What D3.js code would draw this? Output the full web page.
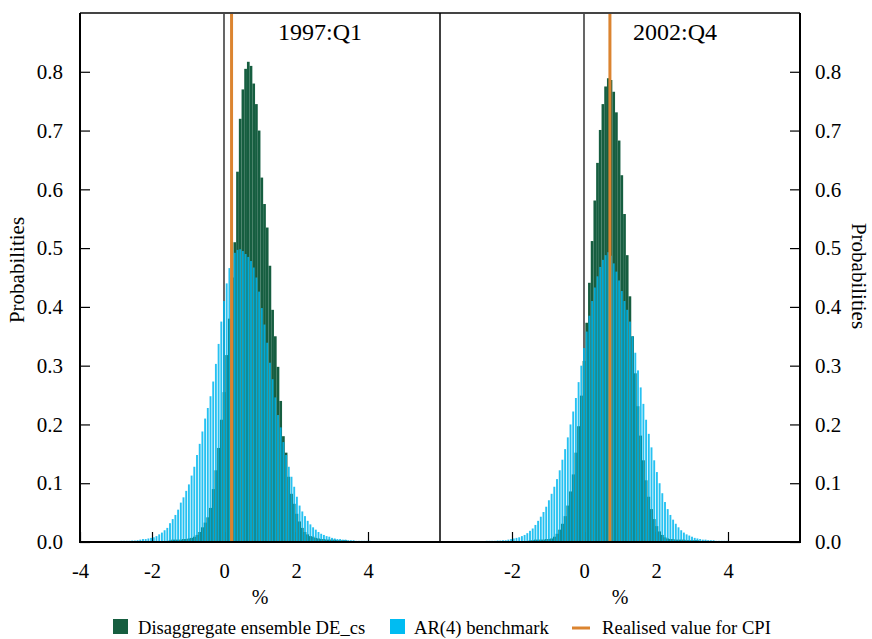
<!DOCTYPE html>
<html>
<head>
<meta charset="utf-8">
<script src="https://cdn.jsdelivr.net/npm/d3@7"></script>
<style>
  body { margin: 0; background: #fff; }
  svg { display: block; }
  svg text { font-family: "Liberation Serif", "Times New Roman", serif; fill: #000; }
</style>
</head>
<body>
<div id="b1"></div>
<script>
// bins: centre of first bin and common width
const binWidth = 0.075;
const arStart = -3.3;   // AR(4) bins start here
const deStart = -1.5;   // DE_cs bins start here

const panelTitles = ["1997:Q1", "2002:Q4"];

// AR(4) benchmark, 1997:Q1
const ar1997 = [
  0.001,0.001,0.001,0.0015,0.0015,0.0015,0.002,0.002,0.002,0.002,
  0.0025,0.0025,0.003,0.004,0.005,0.005,0.006,0.007,0.008,0.010,
  0.013,0.016,0.020,0.024,0.032,0.039,0.046,0.055,0.067,0.076,
  0.087,0.098,0.113,0.128,0.148,0.167,0.188,0.210,0.228,0.248,
  0.273,0.303,0.337,0.375,0.410,0.440,0.466,0.483,0.492,0.497,
  0.498,0.495,0.490,0.485,0.478,0.467,0.450,0.426,0.398,0.370,
  0.339,0.305,0.277,0.246,0.216,0.195,0.170,0.148,0.128,0.111,
  0.094,0.077,0.062,0.052,0.044,0.036,0.030,0.025,0.021,0.017,
  0.014,0.012,0.010,0.009,0.007,0.006,0.005,0.005,0.004,0.004,
  0.003,0.003,0.003,0.002,0.002,0.002,0.002,0.002,0.002,0.001
];

// AR(4) benchmark, 2002:Q4
const ar2002 = [
  0.001,0.001,0.001,0.001,0.001,0.0015,0.0015,0.0015,0.002,0.002,
  0.002,0.002,0.0025,0.0025,0.003,0.003,0.004,0.005,0.006,0.007,
  0.008,0.010,0.012,0.015,0.019,0.023,0.029,0.036,0.043,0.051,
  0.060,0.071,0.082,0.094,0.107,0.122,0.140,0.158,0.178,0.200,
  0.222,0.245,0.272,0.300,0.330,0.358,0.385,0.410,0.433,0.452,
  0.468,0.480,0.488,0.493,0.487,0.474,0.460,0.445,0.427,0.410,
  0.395,0.375,0.350,0.322,0.292,0.263,0.235,0.208,0.184,0.161,
  0.139,0.119,0.100,0.083,0.068,0.056,0.046,0.038,0.031,0.025,
  0.020,0.016,0.013,0.011,0.009,0.007,0.006,0.005,0.004,0.004,
  0.003,0.003,0.003,0.002,0.002,0.002,0.002,0.002,0.001,0.001
];

// Disaggregate ensemble DE_cs, 1997:Q1
const de1997 = [
  0.003,0.004,0.004,0.004,0.004,0.005,0.005,0.006,0.007,0.009,
  0.012,0.017,0.025,0.033,0.042,0.058,0.090,0.122,0.160,0.208,
  0.255,0.318,0.380,0.450,0.510,0.630,0.720,0.770,0.805,0.817,
  0.810,0.780,0.745,0.700,0.620,0.575,0.535,0.470,0.395,0.350,
  0.298,0.240,0.180,0.152,0.111,0.082,0.065,0.048,0.035,0.024,
  0.017,0.013,0.010,0.009,0.007,0.006,0.005,0.005,0.004,0.004,
  0.004,0.004,0.003,0.003,0.003,0.003,0.002
];

// Disaggregate ensemble DE_cs, 2002:Q4
const de2002 = [
  0.003,0.003,0.004,0.004,0.004,0.004,0.005,0.005,0.006,0.009,
  0.014,0.021,0.031,0.044,0.062,0.086,0.115,0.152,0.197,0.249,
  0.308,0.373,0.441,0.512,0.581,0.645,0.701,0.745,0.775,0.789,
  0.786,0.766,0.731,0.683,0.624,0.558,0.488,0.418,0.350,0.287,
  0.231,0.181,0.139,0.105,0.077,0.056,0.039,0.027,0.018,0.012,
  0.008,0.006,0.005,0.005,0.004,0.004,0.004,0.004,0.003,0.003,
  0.003,0.003,0.003,0.002,0.002,0.002,0.002
];

// realised CPI value in each panel
const realised = [0.21, 0.72];

const xTicksLeft = [-4, -2, 0, 2, 4];
const xTicksRight = [-2, 0, 2, 4];
const yTicks = [0, 0.1, 0.2, 0.3, 0.4, 0.5, 0.6, 0.7, 0.8];
const legendLabels = ["Disaggregate ensemble DE_cs", "AR(4) benchmark", "Realised value for CPI"];

const width = 872;
const height = 639;
const plotTop = 13, plotBottom = 542, plotLeft = 80, panelW = 360;
const green = "#165e40", blue = "#00b6ee", orange = "#db8430";

const svg = d3.create("svg")
    .attr("width", width)
    .attr("height", height)
    .attr("viewBox", [0, 0, width, height])
;

const y = d3.scaleLinear().domain([0, 0.9]).range([plotBottom, plotTop]);

const panels = [
  {title: panelTitles[0], ar: ar1997, de: de1997, real: realised[0], ticks: xTicksLeft},
  {title: panelTitles[1], ar: ar2002, de: de2002, real: realised[1], ticks: xTicksRight}
];

panels.forEach((p, k) => {
    const x0 = plotLeft + k * panelW;
    const x = d3.scaleLinear().domain([-4, 6]).range([x0, x0 + panelW]);
    const bw = x(binWidth) - x(0);
    const g = svg.append("g");

    // x axis first, bars cover the ticks
    const xa = g.append("g")
        .attr("transform", `translate(0,${plotBottom})`)
        .call(d3.axisBottom(x).tickValues(p.ticks).tickSize(-10).tickPadding(21).tickFormat(d => String(d)))
        .attr("font-family", null)
        .attr("font-size", 20.5)
    ;
    xa.select(".domain").remove();
    xa.selectAll("line").attr("stroke", "#000").attr("stroke-width", 1.2);

    // y axis: left panel on the left, right panel on the right
    const ya = g.append("g")
        .attr("transform", `translate(${k === 0 ? x0 : x0 + panelW},0)`)
        .call((k === 0 ? d3.axisLeft(y) : d3.axisRight(y))
            .tickValues(yTicks).tickSize(-10).tickPadding(k === 0 ? 17 : 15)
            .tickFormat(d3.format(".1f")))
        .attr("font-family", null)
        .attr("font-size", 21)
    ;
    ya.select(".domain").remove();
    ya.selectAll("line").attr("stroke", "#000").attr("stroke-width", 1.2);

    // zero line
    g.append("line")
        .attr("x1", x(0)).attr("x2", x(0))
        .attr("y1", plotTop).attr("y2", plotBottom)
        .attr("stroke", "#000").attr("stroke-width", 1.2)
    ;

    // DE_cs bars, full bin width
    g.append("g").selectAll("rect")
        .data(p.de)
        .join("rect")
            .attr("x", (d, i) => x(deStart + i * binWidth) - bw / 2)
            .attr("width", bw)
            .attr("y", d => y(d))
            .attr("height", d => y(0) - y(d))
            .attr("fill", green)
    ;

    // AR(4) bars, narrower and on top
    g.append("g").selectAll("rect")
        .data(p.ar)
        .join("rect")
            .attr("x", (d, i) => x(arStart + i * binWidth) - bw * 0.35)
            .attr("width", bw * 0.7)
            .attr("y", d => y(d))
            .attr("height", d => y(0) - y(d))
            .attr("fill", blue)
            .attr("fill-opacity", 0.85)
    ;

    // realised value
    g.append("line")
        .attr("x1", x(p.real)).attr("x2", x(p.real))
        .attr("y1", plotTop).attr("y2", plotBottom)
        .attr("stroke", orange).attr("stroke-width", 3)
    ;

    // title
    g.append("text")
        .attr("x", x0 + 240 - k * 5)
        .attr("y", 40)
        .attr("text-anchor", "middle")
        .attr("font-size", 24)
        .text(p.title)
    ;

    // x axis title
    g.append("text")
        .attr("x", x0 + panelW / 2)
        .attr("y", 604)
        .attr("text-anchor", "middle")
        .attr("font-size", 20)
        .text("%")
    ;
});

// frame
svg.append("line").attr("x1", plotLeft).attr("x2", plotLeft + 2 * panelW).attr("y1", plotTop).attr("y2", plotTop)
    .attr("stroke", "#444").attr("stroke-width", 2);
svg.append("line").attr("x1", plotLeft - 1).attr("x2", plotLeft + 2 * panelW + 1).attr("y1", plotBottom).attr("y2", plotBottom)
    .attr("stroke", "#000").attr("stroke-width", 2);
[plotLeft, plotLeft + panelW, plotLeft + 2 * panelW].forEach(xx => {
    svg.append("line").attr("x1", xx).attr("x2", xx).attr("y1", plotTop).attr("y2", plotBottom)
        .attr("stroke", "#000").attr("stroke-width", xx === plotLeft + panelW ? 1.5 : 2);
});

// axis titles
svg.append("text")
    .attr("transform", "translate(24,270) rotate(-90)")
    .attr("text-anchor", "middle")
    .attr("font-size", 21)
    .text("Probabilities")
;
svg.append("text")
    .attr("transform", "translate(852,276) rotate(90)")
    .attr("text-anchor", "middle")
    .attr("font-size", 21)
    .text("Probabilities")
;

// legend
const lg = svg.append("g").attr("font-size", 18.6);
lg.append("rect").attr("x", 113).attr("y", 619).attr("width", 15).attr("height", 15).attr("fill", green);
lg.append("text").attr("x", 138).attr("y", 634).text(legendLabels[0]);
lg.append("rect").attr("x", 390).attr("y", 619).attr("width", 15).attr("height", 15).attr("fill", "#00bcf2");
lg.append("text").attr("x", 414).attr("y", 634).text(legendLabels[1]);
lg.append("line").attr("x1", 572).attr("x2", 590).attr("y1", 628).attr("y2", 628)
    .attr("stroke", orange).attr("stroke-width", 3);
lg.append("text").attr("x", 602).attr("y", 634).text(legendLabels[2]);

document.getElementById("b1").append(svg.node());
</script>
</body>
</html>
